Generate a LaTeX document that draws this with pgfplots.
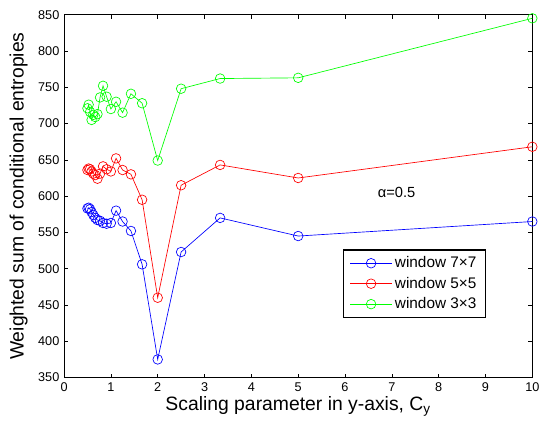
\documentclass[border=0pt]{standalone}
\usepackage{pgfplots}
\pgfplotsset{compat=1.18}
\usepackage{fontspec}
\setmainfont{Liberation Sans}

% x = 10/n, n = 20..1
\pgfplotstableread{
x      w7   w5   w3
0.500  583  636  721
0.526  584  638  726
0.556  582  637  716
0.588  578  634  705
0.625  574  631  712
0.667  570  629  709
0.714  567  624  713
0.769  566  631  736
0.833  563  641  752
0.909  562  637  737
1.000  563  634  720
1.111  580  652  730
1.250  565  636  715
1.429  552  630  741
1.667  506  595  728
2.000  375  460  649
2.500  523  615  748
3.333  570  643  762
5.000  545  625  763
10.000 565  668  845
}\entropies

\begin{document}
\begin{tikzpicture}
\begin{axis}[
    scale only axis,
    width=351pt, height=272pt,
    xmin=0, xmax=10,
    ymin=350, ymax=850,
    xtick={0,1,...,10},
    ytick={350,400,...,850},
    tick align=inside,
    major tick length=3pt,
    tick style={black, line width=0.5pt},
    axis line style={line width=0.8pt},
    ticklabel style={font=\fontsize{9.5}{11}\selectfont},
    /pgf/number format/assume math mode=true,
    xlabel={Scaling parameter in y-axis, C\textsubscript{y}},
    ylabel={Weighted sum of conditional entropies},
    label style={font=\fontsize{14.5}{16}\selectfont},
    xlabel style={yshift=3pt},
    ylabel style={yshift=1pt},
    legend style={at={(0.595,0.353)}, anchor=north west,
        font=\fontsize{11.5}{13}\selectfont, draw=black, line width=0.8pt,
        row sep=1.5pt, inner xsep=5pt, inner ysep=3pt},
    legend cell align=left,
    legend image code/.code={
        \draw[#1, line width=0.5pt] (0cm,0cm) -- (1.1cm,0cm);
        \draw[#1, line width=0.5pt, mark repeat=1] plot coordinates {(0.55cm,0cm)};
    },
]
\addplot[blue, line width=0.5pt, mark=o, mark size=3.6pt] table[x=x, y=w7] {\entropies};
\addlegendentry{window 7×7}
\addplot[red, line width=0.5pt, mark=o, mark size=3.6pt] table[x=x, y=w5] {\entropies};
\addlegendentry{window 5×5}
\addplot[green, line width=0.5pt, mark=o, mark size=3.6pt] table[x=x, y=w3] {\entropies};
\addlegendentry{window 3×3}
\node[anchor=west, font=\fontsize{11}{13}\selectfont] at (axis cs:6.6,605) {α=0.5};
\end{axis}
\pgfresetboundingbox
\path ([shift={(-48pt,-41pt)}]current axis.south west)
    rectangle ([shift={(5pt,11pt)}]current axis.north east);
\end{tikzpicture}
\end{document}
